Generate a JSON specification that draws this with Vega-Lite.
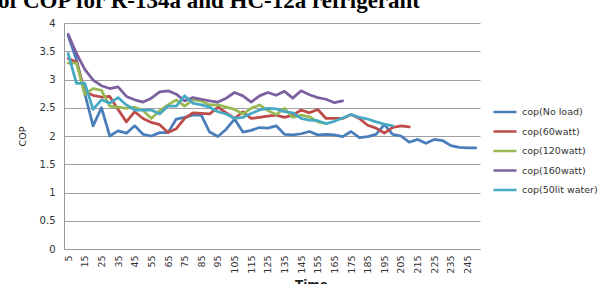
{
  "$schema": "https://vega.github.io/schema/vega-lite/v6.json",
  "width": 416,
  "height": 226,
  "autosize": {"type": "none"},
  "padding": {"left": 64, "top": 23, "right": 119, "bottom": 35},
  "background": "white",
  "title": {
    "text": "of COP for R-134a and HC-12a refrigerant",
    "anchor": "start",
    "frame": "group",
    "font": "Liberation Serif",
    "fontSize": 23,
    "fontWeight": "bold",
    "color": "black",
    "dx": -66,
    "dy": 16.5,
    "offset": 4,
    "baseline": "alphabetic"
  },
  "data": {
    "values": [
      {"t": 5, "cop(No load)": 3.78, "cop(60watt)": 3.37, "cop(120watt)": 3.29, "cop(160watt)": 3.80, "cop(50lit water)": 3.46},
      {"t": 10, "cop(No load)": 3.35, "cop(60watt)": 3.31, "cop(120watt)": 3.29, "cop(160watt)": 3.46, "cop(50lit water)": 2.93},
      {"t": 15, "cop(No load)": 2.75, "cop(60watt)": 2.78, "cop(120watt)": 2.74, "cop(160watt)": 3.18, "cop(50lit water)": 2.93},
      {"t": 20, "cop(No load)": 2.18, "cop(60watt)": 2.72, "cop(120watt)": 2.84, "cop(160watt)": 2.99, "cop(50lit water)": 2.47},
      {"t": 25, "cop(No load)": 2.50, "cop(60watt)": 2.69, "cop(120watt)": 2.81, "cop(160watt)": 2.89, "cop(50lit water)": 2.64},
      {"t": 30, "cop(No load)": 2.00, "cop(60watt)": 2.70, "cop(120watt)": 2.53, "cop(160watt)": 2.84, "cop(50lit water)": 2.58},
      {"t": 35, "cop(No load)": 2.09, "cop(60watt)": 2.47, "cop(120watt)": 2.51, "cop(160watt)": 2.87, "cop(50lit water)": 2.68},
      {"t": 40, "cop(No load)": 2.05, "cop(60watt)": 2.25, "cop(120watt)": 2.49, "cop(160watt)": 2.70, "cop(50lit water)": 2.55},
      {"t": 45, "cop(No load)": 2.18, "cop(60watt)": 2.43, "cop(120watt)": 2.51, "cop(160watt)": 2.64, "cop(50lit water)": 2.46},
      {"t": 50, "cop(No load)": 2.03, "cop(60watt)": 2.31, "cop(120watt)": 2.45, "cop(160watt)": 2.60, "cop(50lit water)": 2.46},
      {"t": 55, "cop(No load)": 2.00, "cop(60watt)": 2.24, "cop(120watt)": 2.31, "cop(160watt)": 2.67, "cop(50lit water)": 2.46},
      {"t": 60, "cop(No load)": 2.06, "cop(60watt)": 2.20, "cop(120watt)": 2.45, "cop(160watt)": 2.78, "cop(50lit water)": 2.39},
      {"t": 65, "cop(No load)": 2.06, "cop(60watt)": 2.06, "cop(120watt)": 2.55, "cop(160watt)": 2.80, "cop(50lit water)": 2.53},
      {"t": 70, "cop(No load)": 2.30, "cop(60watt)": 2.13, "cop(120watt)": 2.64, "cop(160watt)": 2.74, "cop(50lit water)": 2.53},
      {"t": 75, "cop(No load)": 2.33, "cop(60watt)": 2.31, "cop(120watt)": 2.53, "cop(160watt)": 2.62, "cop(50lit water)": 2.71},
      {"t": 80, "cop(No load)": 2.37, "cop(60watt)": 2.41, "cop(120watt)": 2.64, "cop(160watt)": 2.68, "cop(50lit water)": 2.58},
      {"t": 85, "cop(No load)": 2.37, "cop(60watt)": 2.40, "cop(120watt)": 2.62, "cop(160watt)": 2.65, "cop(50lit water)": 2.55},
      {"t": 90, "cop(No load)": 2.07, "cop(60watt)": 2.39, "cop(120watt)": 2.55, "cop(160watt)": 2.62, "cop(50lit water)": 2.51},
      {"t": 95, "cop(No load)": 1.99, "cop(60watt)": 2.51, "cop(120watt)": 2.55, "cop(160watt)": 2.60, "cop(50lit water)": 2.43},
      {"t": 100, "cop(No load)": 2.12, "cop(60watt)": 2.41, "cop(120watt)": 2.51, "cop(160watt)": 2.67, "cop(50lit water)": 2.39},
      {"t": 105, "cop(No load)": 2.30, "cop(60watt)": 2.31, "cop(120watt)": 2.47, "cop(160watt)": 2.77, "cop(50lit water)": 2.31},
      {"t": 110, "cop(No load)": 2.07, "cop(60watt)": 2.43, "cop(120watt)": 2.39, "cop(160watt)": 2.71, "cop(50lit water)": 2.33},
      {"t": 115, "cop(No load)": 2.10, "cop(60watt)": 2.31, "cop(120watt)": 2.49, "cop(160watt)": 2.60, "cop(50lit water)": 2.40},
      {"t": 120, "cop(No load)": 2.15, "cop(60watt)": 2.33, "cop(120watt)": 2.55, "cop(160watt)": 2.71, "cop(50lit water)": 2.46},
      {"t": 125, "cop(No load)": 2.14, "cop(60watt)": 2.35, "cop(120watt)": 2.45, "cop(160watt)": 2.77, "cop(50lit water)": 2.49},
      {"t": 130, "cop(No load)": 2.18, "cop(60watt)": 2.37, "cop(120watt)": 2.38, "cop(160watt)": 2.72, "cop(50lit water)": 2.48},
      {"t": 135, "cop(No load)": 2.03, "cop(60watt)": 2.33, "cop(120watt)": 2.49, "cop(160watt)": 2.79, "cop(50lit water)": 2.43},
      {"t": 140, "cop(No load)": 2.02, "cop(60watt)": 2.37, "cop(120watt)": 2.33, "cop(160watt)": 2.67, "cop(50lit water)": 2.41},
      {"t": 145, "cop(No load)": 2.04, "cop(60watt)": 2.46, "cop(120watt)": 2.37, "cop(160watt)": 2.80, "cop(50lit water)": 2.31},
      {"t": 150, "cop(No load)": 2.08, "cop(60watt)": 2.41, "cop(120watt)": 2.34, "cop(160watt)": 2.73, "cop(50lit water)": 2.28},
      {"t": 155, "cop(No load)": 2.02, "cop(60watt)": 2.47, "cop(120watt)": 2.25, "cop(160watt)": 2.68, "cop(50lit water)": 2.27},
      {"t": 160, "cop(No load)": 2.03, "cop(60watt)": 2.31, "cop(120watt)": 2.22, "cop(160watt)": 2.65, "cop(50lit water)": 2.22},
      {"t": 165, "cop(No load)": 2.02, "cop(60watt)": 2.31, "cop(160watt)": 2.59, "cop(50lit water)": 2.26},
      {"t": 170, "cop(No load)": 1.99, "cop(60watt)": 2.31, "cop(160watt)": 2.62, "cop(50lit water)": 2.32},
      {"t": 175, "cop(No load)": 2.08, "cop(60watt)": 2.38, "cop(50lit water)": 2.38},
      {"t": 180, "cop(No load)": 1.97, "cop(60watt)": 2.31, "cop(50lit water)": 2.33},
      {"t": 185, "cop(No load)": 1.99, "cop(60watt)": 2.19, "cop(50lit water)": 2.30},
      {"t": 190, "cop(No load)": 2.03, "cop(60watt)": 2.14, "cop(50lit water)": 2.25},
      {"t": 195, "cop(No load)": 2.20, "cop(60watt)": 2.05, "cop(50lit water)": 2.21},
      {"t": 200, "cop(No load)": 2.03, "cop(60watt)": 2.15, "cop(50lit water)": 2.18},
      {"t": 205, "cop(No load)": 2.00, "cop(60watt)": 2.18},
      {"t": 210, "cop(No load)": 1.89, "cop(60watt)": 2.16},
      {"t": 215, "cop(No load)": 1.94},
      {"t": 220, "cop(No load)": 1.87},
      {"t": 225, "cop(No load)": 1.94},
      {"t": 230, "cop(No load)": 1.92},
      {"t": 235, "cop(No load)": 1.83},
      {"t": 240, "cop(No load)": 1.80},
      {"t": 245, "cop(No load)": 1.79},
      {"t": 250, "cop(No load)": 1.79}
    ]
  },
  "transform": [
    {"fold": ["cop(No load)", "cop(60watt)", "cop(120watt)", "cop(160watt)", "cop(50lit water)"], "as": ["series", "cop"]}
  ],
  "mark": {"type": "line", "strokeWidth": 2.75, "strokeJoin": "round", "strokeCap": "round"},
  "encoding": {
    "x": {
      "field": "t",
      "type": "quantitative",
      "scale": {"domain": [2.5, 252.5], "nice": false, "zero": false},
      "axis": {
        "values": [5, 15, 25, 35, 45, 55, 65, 75, 85, 95, 105, 115, 125, 135, 145, 155, 165, 175, 185, 195, 205, 215, 225, 235, 245],
        "labelAngle": -90,
        "grid": false,
        "ticks": false,
        "domainColor": "#999999",
        "labelFont": "DejaVu Sans",
        "labelFontSize": 9.5,
        "labelColor": "#333333",
        "labelPadding": 6,
        "labelOverlap": false,
        "title": "Time",
        "titleFont": "DejaVu Sans",
        "titleFontSize": 12,
        "titleFontWeight": "bold",
        "titleColor": "#222222",
        "titleX": 247,
        "titleY": 30,
        "titleBaseline": "top",
        "titleAlign": "center"
      }
    },
    "y": {
      "field": "cop",
      "type": "quantitative",
      "scale": {"domain": [0, 4], "nice": false},
      "axis": {
        "values": [0, 0.5, 1, 1.5, 2, 2.5, 3, 3.5, 4],
        "format": "~g",
        "grid": true,
        "gridColor": "#A0A0A0",
        "ticks": false,
        "domainColor": "#999999",
        "labelFont": "DejaVu Sans",
        "labelFontSize": 10,
        "labelColor": "#333333",
        "labelPadding": 9,
        "title": "COP",
        "titleFont": "DejaVu Sans",
        "titleFontSize": 9.5,
        "titleFontWeight": "normal",
        "titleColor": "#222222",
        "titlePadding": 12
      }
    },
    "color": {
      "field": "series",
      "type": "nominal",
      "scale": {
        "domain": ["cop(No load)", "cop(60watt)", "cop(120watt)", "cop(160watt)", "cop(50lit water)"],
        "range": ["#4A7EBB", "#BE4B48", "#98B954", "#7D60A0", "#46AAC5"]
      },
      "legend": {
        "orient": "none",
        "legendX": 428,
        "legendY": 76,
        "title": null,
        "symbolType": "stroke",
        "symbolSize": 529,
        "symbolStrokeWidth": 2.5,
        "labelFont": "DejaVu Sans",
        "labelFontSize": 9.5,
        "labelColor": "#333333",
        "labelOffset": 4,
        "rowPadding": 1.5,
        "padding": 0
      }
    }
  },
  "config": {
    "view": {"stroke": null}
  }
}
